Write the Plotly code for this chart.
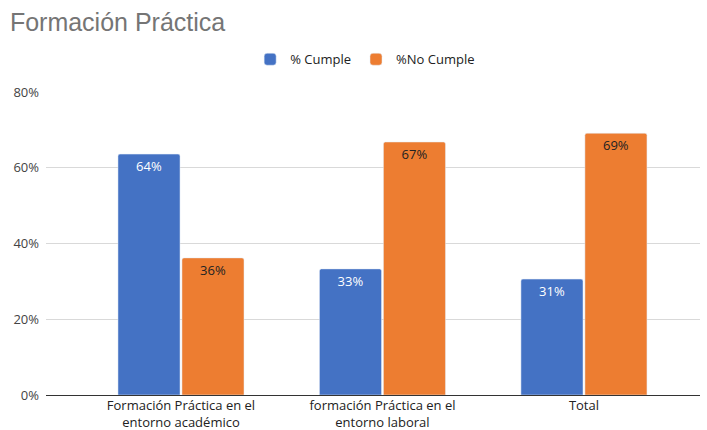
import plotly.graph_objects as go

categories = ["Formación Práctica en el<br>entorno académico",
              "formación Práctica en el<br>entorno laboral",
              "Total"]
cumple = [63.6, 33.3, 30.6]
no_cumple = [36.2, 66.8, 69.1]
cumple_labels = ["64%", "33%", "31%"]
no_cumple_labels = ["36%", "67%", "69%"]
tick_vals = [0, 20, 40, 60, 80]
tick_text = ["0%", "20%", "40%", "60%", "80%"]

FONT = "Open Sans"

fig = go.Figure()
fig.add_trace(go.Bar(
    name="% Cumple", x=categories, y=cumple, text=cumple_labels,
    textposition="inside", insidetextanchor="end",
    textfont=dict(color="white", size=13, family=FONT),
    marker=dict(color="#4472C4", cornerradius=2),
    hoverinfo="skip"))
fig.add_trace(go.Bar(
    name="%No Cumple", x=categories, y=no_cumple, text=no_cumple_labels,
    textposition="inside", insidetextanchor="end",
    textfont=dict(color="#222222", size=13, family=FONT),
    marker=dict(color="#ED7D31", cornerradius=2),
    hoverinfo="skip"))

fig.update_layout(
    width=707, height=430,
    margin=dict(l=46, r=7, t=92, b=35),
    paper_bgcolor="white", plot_bgcolor="white",
    barmode="group", bargap=0.365, bargroupgap=0.03,
    font=dict(family=FONT, size=13, color="#222222"),
    title=dict(text="Formación Práctica", x=0.014, xanchor="left",
               y=0.949, yanchor="middle",
               font=dict(size=25, color="#757575", family="Liberation Sans")),
    legend=dict(orientation="h", x=0.488, xanchor="center", y=1.108,
                yanchor="middle", font=dict(size=13, color="#222222", family=FONT),
                itemwidth=30, traceorder="normal"),
    showlegend=True,
)
fig.update_xaxes(range=[-0.67, 2.576], showgrid=False, ticks="",
                 tickfont=dict(size=13, color="#222222", family=FONT),
                 showline=False, automargin=False, ticklabelstandoff=1)
fig.update_yaxes(range=[0, 80], tickvals=tick_vals, ticktext=tick_text,
                 showgrid=True, gridcolor="#d9d9d9", gridwidth=1,
                 zeroline=True, zerolinecolor="#333333", zerolinewidth=1,
                 tickfont=dict(size=13, color="#444444", family=FONT), ticks="",
                 ticklabelstandoff=6, automargin=False)
fig.write_html("out.html", config={"displayModeBar": False},
               post_script="document.body.style.margin='0';document.body.style.overflow='hidden';")
